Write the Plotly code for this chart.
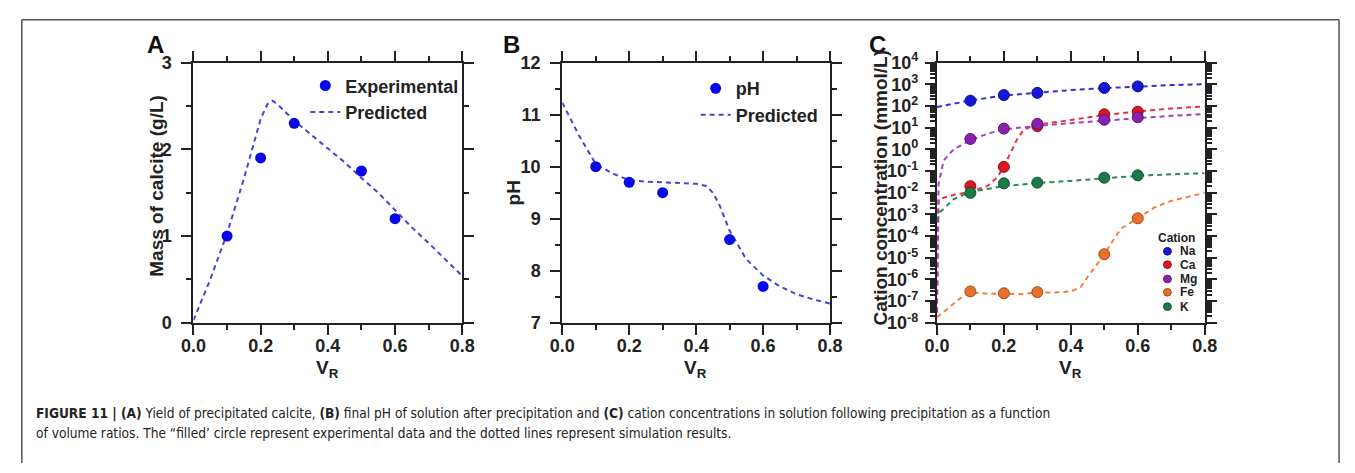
import plotly.graph_objects as go

W, H = 1355, 473

# ---------------- data ----------------
vr_exp = [0.1, 0.2, 0.3, 0.5, 0.6]

# Panel A: mass of calcite (g/L)
calcite_exp = [1.0, 1.9, 2.3, 1.75, 1.2]
calcite_pred_x = [0, 0.05, 0.1, 0.15, 0.2, 0.22, 0.235, 0.25, 0.3, 0.35, 0.4, 0.45, 0.5, 0.55, 0.6, 0.65, 0.7, 0.75, 0.8]
calcite_pred_y = [0.03, 0.5, 1.03, 1.66, 2.35, 2.52, 2.56, 2.52, 2.33, 2.17, 2.0, 1.85, 1.67, 1.5, 1.3, 1.1, 0.92, 0.73, 0.54]

# Panel B: pH
ph_exp = [10.0, 9.7, 9.5, 8.6, 7.7]
ph_pred_x = [0, 0.05, 0.1, 0.15, 0.2, 0.25, 0.3, 0.4, 0.43, 0.45, 0.47, 0.5, 0.55, 0.6, 0.65, 0.7, 0.75, 0.8]
ph_pred_y = [11.23, 10.6, 10.05, 9.87, 9.74, 9.71, 9.7, 9.67, 9.63, 9.5, 9.26, 8.77, 8.22, 7.91, 7.7, 7.55, 7.45, 7.37]

# Panel C: cation concentrations (mmol/L)
cations = ["Na", "Ca", "Mg", "Fe", "K"]
na_exp = [174, 316, 400, 676, 794]
ca_exp = [0.02, 0.155, 11.7, 41, 54]
mg_exp = [3.0, 9.0, 15, 23, 30]
fe_exp = [2.8e-7, 2.3e-7, 2.6e-7, 1.45e-5, 6.6e-4]
k_exp = [0.0098, 0.027, 0.029, 0.049, 0.063]

na_sim_x = [0, 0.05, 0.1, 0.2, 0.3, 0.4, 0.5, 0.6, 0.7, 0.8]
na_sim_y = [89, 126, 178, 302, 417, 537, 661, 794, 912, 1000]
ca_sim_x = [0, 0.005, 0.05, 0.1, 0.15, 0.18, 0.2, 0.22, 0.24, 0.26, 0.3, 0.4, 0.5, 0.6, 0.7, 0.8]
ca_sim_y = [3e-8, 5e-3, 7.9e-3, 1.1e-2, 2.0e-2, 5e-2, 0.16, 0.66, 3.0, 8.3, 13.8, 22.4, 38, 56, 76, 95]
mg_sim_x = [0, 0.005, 0.02, 0.05, 0.1, 0.15, 0.2, 0.3, 0.4, 0.5, 0.6, 0.7, 0.8]
mg_sim_y = [3e-8, 2.5e-2, 0.3, 1.0, 2.6, 5.2, 8.3, 12, 16, 21, 28, 35, 42]
fe_sim_x = [0, 0.02, 0.05, 0.08, 0.1, 0.15, 0.2, 0.25, 0.3, 0.35, 0.4, 0.43, 0.45, 0.48, 0.5, 0.53, 0.55, 0.6, 0.65, 0.7, 0.75, 0.8]
fe_sim_y = [1.8e-8, 3.2e-8, 8e-8, 1.8e-7, 2.6e-7, 2.2e-7, 2.2e-7, 2.1e-7, 2.5e-7, 2.5e-7, 2.8e-7, 4.5e-7, 1.3e-6, 5.6e-6, 1.4e-5, 7.9e-5, 2.2e-4, 6.6e-4, 2.1e-3, 4.2e-3, 6.3e-3, 9.8e-3]
k_sim_x = [0, 0.01, 0.05, 0.1, 0.2, 0.3, 0.4, 0.5, 0.6, 0.7, 0.8]
k_sim_y = [5e-4, 1.3e-3, 5e-3, 1.1e-2, 2.0e-2, 2.8e-2, 3.5e-2, 4.7e-2, 6.0e-2, 7.1e-2, 7.9e-2]

x_ticks = [0.0, 0.2, 0.4, 0.6, 0.8]
log_tick_exps = list(range(-8, 5))

# ---------------- styles ----------------
FONT = "Liberation Sans, Arial, sans-serif"
BLUE = "#0808e8"
BLUE_LINE = "#4444d8"
C_COL = {"Na": "#1616d8", "Ca": "#e0141e", "Mg": "#8a20b0", "Fe": "#e8702a", "K": "#1c7a48"}
C_EDGE = {"Na": "#0c0c90", "Ca": "#901010", "Mg": "#5a1478", "Fe": "#a04a18", "K": "#0f5030"}
C_LINE = {"Na": "#3030d8", "Ca": "#e83040", "Mg": "#a040c0", "Fe": "#f08040", "K": "#2a8a58"}
DASH = "5px,4px"
INK = "#222"


def px(x):
    return x / W


def py(y):
    return 1 - y / H


def bfont(size):
    return dict(family=FONT, size=size, color=INK, weight="bold")


y_dom = [py(326), py(53)]
x_doms = [[px(184), px(458)], [px(560), px(833)], [px(942), px(1215)]]

fig = go.Figure()

# Panel A
fig.add_trace(go.Scatter(x=calcite_pred_x, y=calcite_pred_y, mode="lines", name="Predicted",
                         line=dict(color=BLUE_LINE, width=2, dash=DASH), xaxis="x", yaxis="y",
                         legend="legend"))
fig.add_trace(go.Scatter(x=vr_exp, y=calcite_exp, mode="markers", name="Experimental",
                         marker=dict(color=BLUE, size=11), xaxis="x", yaxis="y", legend="legend",
                         legendrank=1))
# Panel B
fig.add_trace(go.Scatter(x=ph_pred_x, y=ph_pred_y, mode="lines", name="Predicted",
                         line=dict(color=BLUE_LINE, width=2, dash=DASH), xaxis="x2", yaxis="y2",
                         legend="legend2"))
fig.add_trace(go.Scatter(x=vr_exp, y=ph_exp, mode="markers", name="pH",
                         marker=dict(color=BLUE, size=11), xaxis="x2", yaxis="y2", legend="legend2",
                         legendrank=1))

# Panel C
sims = {"Na": (na_sim_x, na_sim_y), "Ca": (ca_sim_x, ca_sim_y), "Mg": (mg_sim_x, mg_sim_y),
        "Fe": (fe_sim_x, fe_sim_y), "K": (k_sim_x, k_sim_y)}
exps = {"Na": na_exp, "Ca": ca_exp, "Mg": mg_exp, "Fe": fe_exp, "K": k_exp}
for c in cations:
    sx, sy = sims[c]
    fig.add_trace(go.Scatter(x=sx, y=sy, mode="lines", showlegend=False,
                             line=dict(color=C_LINE[c], width=2, dash=DASH), xaxis="x3", yaxis="y3"))
for c in cations:
    fig.add_trace(go.Scatter(x=vr_exp, y=exps[c], mode="markers", name=c, showlegend=False,
                             marker=dict(color=C_COL[c], size=11, line=dict(color=C_EDGE[c], width=1)),
                             xaxis="x3", yaxis="y3"))

common_axis = dict(showline=True, linecolor=INK, linewidth=2, mirror="allticks",
                   ticks="outside", ticklen=10, tickwidth=2, tickcolor=INK,
                   showgrid=False, zeroline=False, tickfont=bfont(18))

xaxis_common = dict(common_axis, range=[0, 0.8], tickmode="array", tickvals=x_ticks,
                    ticktext=["%.1f" % v for v in x_ticks], ticklabelstandoff=-4,
                    minor=dict(ticks="outside", ticklen=5, tickwidth=2, tickcolor=INK, dtick=0.1))

minor_log = [m * 10.0 ** e for e in range(-8, 4) for m in range(2, 10)]

fig.update_layout(
    width=W, height=H, autosize=False,
    margin=dict(l=0, r=0, t=0, b=0),
    paper_bgcolor="white", plot_bgcolor="white",
    showlegend=True,
    xaxis=dict(xaxis_common, domain=x_doms[0], anchor="y"),
    yaxis=dict(common_axis, domain=y_dom, anchor="x", range=[0, 3], dtick=1, tickformat="d",
               ticklabelstandoff=6,
               minor=dict(ticks="outside", ticklen=5, tickwidth=2, tickcolor=INK, dtick=0.5)),
    xaxis2=dict(xaxis_common, domain=x_doms[1], anchor="y2"),
    yaxis2=dict(common_axis, domain=y_dom, anchor="x2", range=[7, 12], dtick=1, tickformat="d",
                ticklabelstandoff=6,
                minor=dict(ticks="outside", ticklen=5, tickwidth=2, tickcolor=INK, dtick=0.5)),
    xaxis3=dict(xaxis_common, domain=x_doms[2], anchor="y3"),
    yaxis3=dict(common_axis, domain=y_dom, anchor="x3", type="log", range=[-8, 4],
                tickmode="array", tickvals=[10.0 ** e for e in log_tick_exps],
                ticktext=["10<sup>%d</sup>" % e for e in log_tick_exps], ticklabelstandoff=3,
                minor=dict(ticks="outside", ticklen=5, tickwidth=1.5, tickcolor=INK,
                           tickmode="array", tickvals=minor_log)),
    legend=dict(x=px(298), y=py(58), xanchor="left", yanchor="top", bgcolor="rgba(0,0,0,0)",
                font=bfont(18), traceorder="normal", tracegroupgap=0, itemwidth=30),
    legend2=dict(x=px(696), y=py(61), xanchor="left", yanchor="top", bgcolor="rgba(0,0,0,0)",
                 font=bfont(18), traceorder="normal", tracegroupgap=0, itemwidth=30),
)

ann = []
# panel letters
for letter, xc in [("A", 145), ("B", 508), ("C", 881)]:
    ann.append(dict(text=letter, x=px(xc), y=py(34), xref="paper", yref="paper",
                    showarrow=False, font=dict(family=FONT, size=24, color="#111", weight="bold"),
                    xanchor="center", yanchor="middle"))
# axis titles
for xc in [321, 696, 1078]:
    ann.append(dict(text="V<sub>R</sub>", x=px(xc), y=py(374), xref="paper", yref="paper",
                    showarrow=False, font=bfont(19), xanchor="center", yanchor="middle"))
for txt, xc, yc in [("Mass of calcite (g/L)", 146, 182), ("pH", 510, 190),
                    ("Cation concentration (mmol/L)", 884, 184)]:
    ann.append(dict(text=txt, x=px(xc), y=py(yc), xref="paper", yref="paper",
                    showarrow=False, textangle=-90, font=bfont(19),
                    xanchor="center", yanchor="middle"))

# legend for panel C (drawn as a key)
ann.append(dict(text="Cation", x=px(1186), y=py(237), xref="paper", yref="paper",
                showarrow=False, font=bfont(12), xanchor="center", yanchor="middle"))
shapes = []
leg_y = [251, 265, 280, 294, 309]
for c, yy in zip(cations, leg_y):
    ann.append(dict(text=c, x=px(1188), y=py(yy), xref="paper", yref="paper",
                    showarrow=False, font=bfont(12), xanchor="left", yanchor="middle"))
    shapes.append(dict(type="circle", xref="paper", yref="paper",
                       x0=px(1177 - 4), x1=px(1177 + 4), y0=py(yy + 4), y1=py(yy - 4),
                       fillcolor=C_COL[c], line=dict(color=C_EDGE[c], width=1)))

# caption
CAP_FONT = "DejaVu Sans Condensed, Liberation Sans Narrow, sans-serif"
cap1 = ("<b>FIGURE 11 | (A)</b> Yield of precipitated calcite, <b>(B)</b> final pH of solution after "
        "precipitation and <b>(C)</b> cation concentrations in solution following precipitation as a function")
cap2 = ("of volume ratios. The \u201cfilled\u2019 circle represent experimental data and the dotted lines "
        "represent simulation results.")
for txt, yy in [(cap1, 421), (cap2, 442)]:
    ann.append(dict(text=txt, x=px(21), y=py(yy), xref="paper", yref="paper", showarrow=False,
                    font=dict(family=CAP_FONT, size=13.6, color=INK),
                    xanchor="left", yanchor="middle"))

# outer frame (left, top, right edges; kept inside the figure)
frame = dict(color="#555", width=1.5)
shapes.append(dict(type="line", xref="paper", yref="paper", x0=px(9), x1=px(9), y0=0, y1=py(8), line=frame))
shapes.append(dict(type="line", xref="paper", yref="paper", x0=px(9), x1=px(1352), y0=py(8), y1=py(8), line=frame))
shapes.append(dict(type="line", xref="paper", yref="paper", x0=px(1352), x1=px(1352), y0=0, y1=py(8), line=frame))

fig.update_layout(annotations=ann, shapes=shapes)
fig.write_html("out.html")
